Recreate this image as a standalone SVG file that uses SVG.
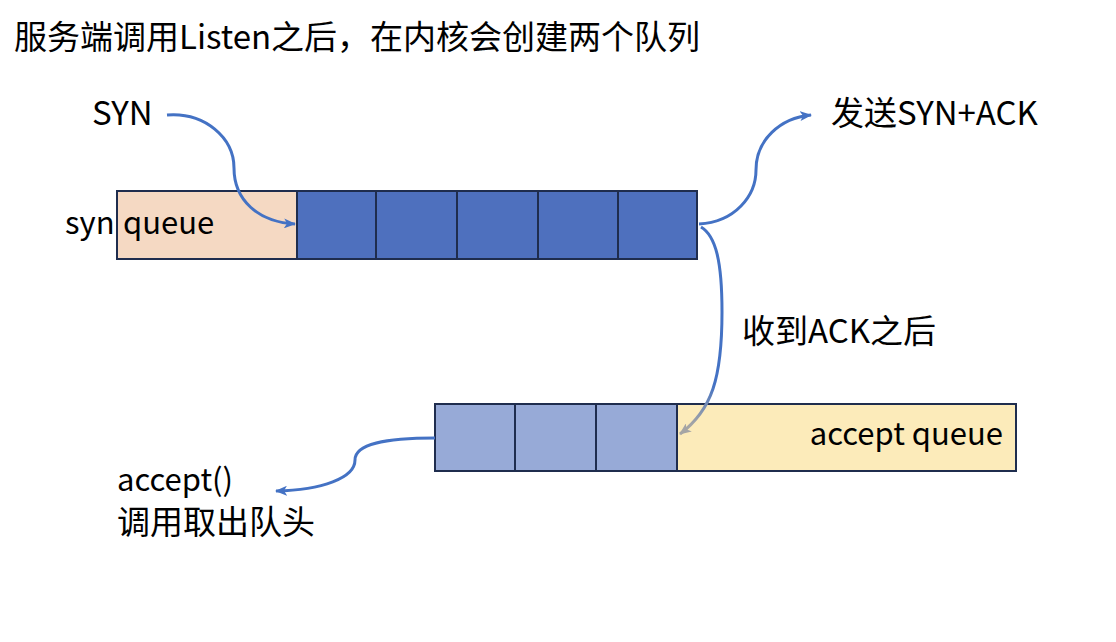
<svg xmlns="http://www.w3.org/2000/svg" width="1116" height="642" viewBox="0 0 1116 642">
<style>
text{font-family:"Noto Sans CJK SC","Noto Sans",sans-serif;font-size:33px;fill:#000}
.sm{font-size:31px}
.cell{fill:#4E70BE;stroke:#1F2D4E;stroke-width:2}
.lcell{fill:#97AAD7;stroke:#1F2D4E;stroke-width:2}
.conn{fill:none;stroke:#4472C4;stroke-width:3}
</style>
<defs>
<marker id="ah" viewBox="0 0 12 10" refX="11" refY="5" markerWidth="12" markerHeight="10" markerUnits="userSpaceOnUse" orient="auto">
<path d="M0,0 L12,5 L0,10 L3,5 Z" fill="#4472C4"/>
</marker>
<marker id="ahg" viewBox="0 0 12 10" refX="11" refY="5" markerWidth="12" markerHeight="10" markerUnits="userSpaceOnUse" orient="auto">
<path d="M0,0 L12,5 L0,10 L3,5 Z" fill="#A5A5A5"/>
</marker>
<linearGradient id="fade" gradientUnits="userSpaceOnUse" x1="0" y1="385" x2="0" y2="425">
<stop offset="0" stop-color="#4472C4"/>
<stop offset="1" stop-color="#A5A5A5"/>
</linearGradient>
</defs>
<rect width="1116" height="642" fill="#fff"/>
<text x="14" y="49">服务端调用Listen之后，在内核会创建两个队列</text>

<g id="syn-queue">
<rect x="117" y="191" width="180" height="68" fill="#F5D9C3" stroke="#1F2D4E" stroke-width="2"/>
<rect class="cell" x="297" y="191" width="79" height="68"/>
<rect class="cell" x="376" y="191" width="81" height="68"/>
<rect class="cell" x="457" y="191" width="81" height="68"/>
<rect class="cell" x="538" y="191" width="80" height="68"/>
<rect class="cell" x="618" y="191" width="79" height="68"/>
<text class="sm" x="65" y="234">syn</text>
<text class="sm" x="123" y="234">queue</text>
</g>

<g id="accept-queue">
<rect x="677" y="404" width="339" height="67" fill="#FCEBBA" stroke="#1F2D4E" stroke-width="2"/>
<rect class="lcell" x="435" y="404" width="80" height="67"/>
<rect class="lcell" x="515" y="404" width="81" height="67"/>
<rect class="lcell" x="596" y="404" width="81" height="67"/>
<text class="sm" x="1003" y="445" text-anchor="end">accept queue</text>
</g>

<g id="syn-label"><text x="92" y="125">SYN</text></g>
<g id="synack-label"><text x="831" y="125">发送SYN+ACK</text></g>
<g id="ack-label"><text x="742" y="343">收到ACK之后</text></g>
<g id="accept-label">
<text class="sm" x="117" y="491">accept()</text>
<text x="117" y="534">调用取出队头</text>
</g>

<g id="connectors">
<path class="conn" d="M167,115 C205,112 234,138 234,168 C234,200 258,222 295,224" marker-end="url(#ah)"/>
<path class="conn" d="M699,224 C735,222 756,196 756,170 C756,140 780,118 811,115" marker-end="url(#ah)"/>
<path fill="none" stroke="url(#fade)" stroke-width="3" d="M701,227 C716,236 722,262 722,312 C722,378 712,410 680,434" marker-end="url(#ahg)"/>
<path class="conn" d="M435,438 C385,438 355,444 355,460 C355,478 322,490 276,491" marker-end="url(#ah)"/>
</g>
</svg>
